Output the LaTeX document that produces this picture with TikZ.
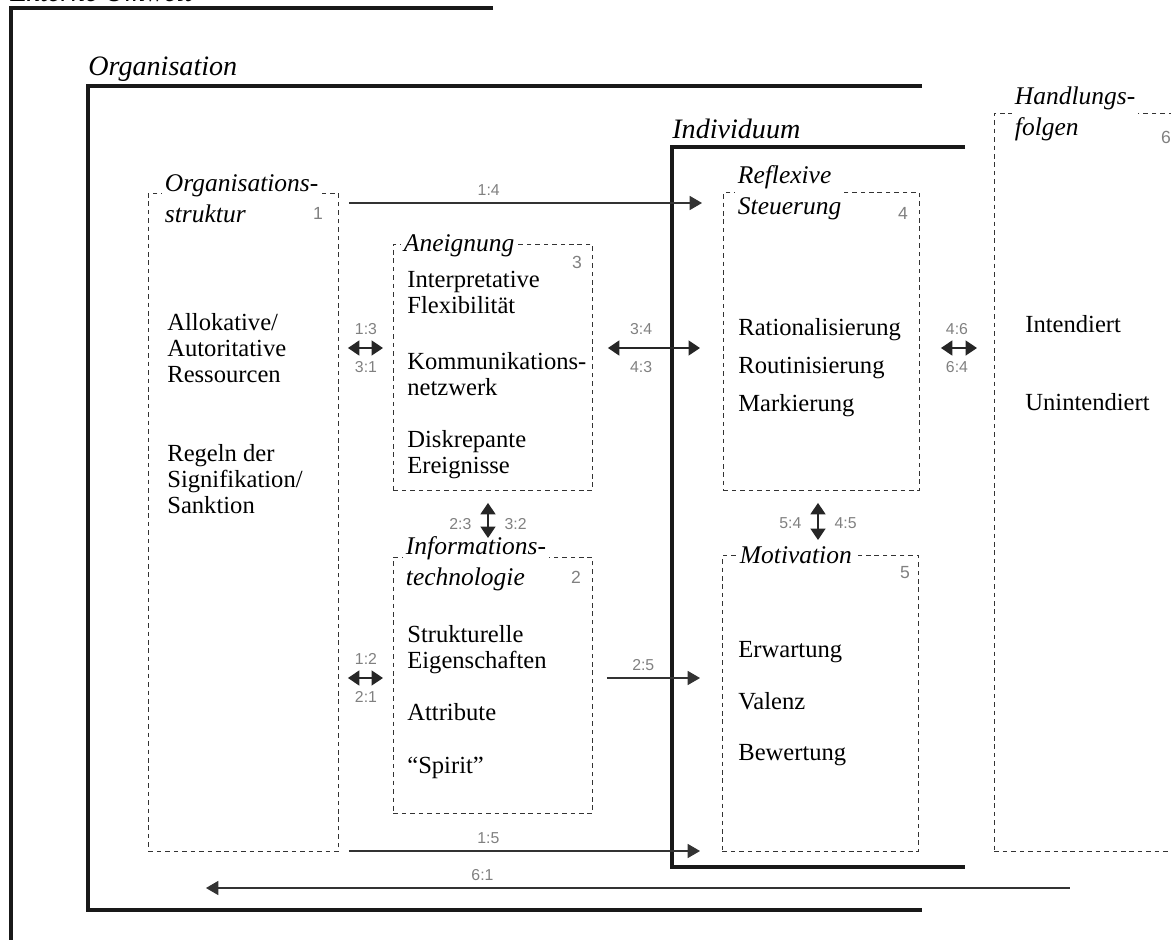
\documentclass[tikz,border=0pt]{standalone}
\usepackage{fontspec}
\setmainfont{Liberation Serif}
\newfontfamily\lblfont{Liberation Sans}
\usetikzlibrary{arrows.meta}

\tikzset{
  frame/.style={line width=1.8pt, black!90},
  dbox/.style={draw=black!80, dash pattern=on 2.6pt off 2.2pt, line width=0.55pt, anchor=north west, inner sep=0pt},
  ttl/.style={fill=white, inner sep=1.5pt, anchor=base west, align=left, font=\fontsize{14.5}{17.6}\selectfont\itshape},
  sect/.style={anchor=base west, inner sep=0pt, font=\fontsize{16}{18}\selectfont\itshape},
  txt/.style={anchor=base west, inner sep=0pt, align=left, font=\fontsize{14}{14.6}\selectfont},
  lbl/.style={inner sep=1pt, text=black!50, font=\lblfont\fontsize{9}{10}\selectfont},
  num/.style={inner sep=0pt, text=black!50, font=\lblfont\fontsize{10}{11}\selectfont},
  arr/.style={-{Triangle[length=7pt,width=8pt]}, line width=0.6pt, black!80},
  darr/.style={{Triangle[length=6.5pt,width=8.5pt]}-{Triangle[length=6.5pt,width=8.5pt]}, line width=1pt, black!85},
}

\begin{document}
\begin{tikzpicture}[x=0.02cm, y=-0.02cm]
    \useasboundingbox (0,0) rectangle (1171,940);
    % frames
    \draw[frame] (493,8) -- (11,8) -- (11,960);
    \node[sect] (ext) at (10,1) {Externe Umwelt};
    \draw[frame] (922,86) -- (88,86) -- (88,910) -- (922,910);
    \node[sect] (org) at (88,75) {Organisation};
    \draw[frame] (965,147) -- (672,147) -- (672,867) -- (965,867);
    \node[sect] (ind) at (672,138) {Individuum};

    % boxes
    \node[dbox, minimum width=3.80cm, minimum height=13.16cm] (b1) at (148,193) {};
    \node[dbox, minimum width=3.98cm, minimum height=4.92cm] (b3) at (393,244) {};
    \node[dbox, minimum width=3.98cm, minimum height=5.12cm] (b2) at (393,557) {};
    \node[dbox, minimum width=3.92cm, minimum height=5.96cm] (b4) at (723,192) {};
    \node[dbox, minimum width=3.92cm, minimum height=5.92cm] (b5) at (722,555) {};
    \node[dbox, minimum width=5.12cm, minimum height=14.76cm] (b6) at (994,113) {};

    % titles and numbers (base = last line)
    \node[ttl] (t1) at (162,222) {Organisations-\\struktur};
    \node[ttl] (t3) at (401,251) {Aneignung};
    \node[ttl] (t2) at (403,585) {Informations-\\technologie};
    \node[ttl] (t4) at (735,214) {Reflexive\\Steuerung};
    \node[ttl] (t5) at (737,563) {Motivation};
    \node[ttl] (t6) at (1012,135) {Handlungs-\\folgen};
    \node[num] (n1) at (318,213) {1};
    \node[num] (n3) at (577,262) {3};
    \node[num] (n2) at (576,577) {2};
    \node[num] (n4) at (903,213) {4};
    \node[num] (n5) at (905,573) {5};
    \node[num] (n6) at (1166,137) {6};

    % box contents
    \node[txt] (c1a) at (167,382) {Allokative/\\Autoritative\\Ressourcen};
    \node[txt] (c1b) at (167,513) {Regeln der\\Signifikation/\\Sanktion};
    \node[txt] (c3a) at (407,313) {Interpretative\\Flexibilität};
    \node[txt] (c3b) at (407,395) {Kommunikations-\\netzwerk};
    \node[txt] (c3c) at (407,473) {Diskrepante\\Ereignisse};
    \node[txt] (c2a) at (407,668) {Strukturelle\\Eigenschaften};
    \node[txt] (c2b) at (407,720) {Attribute};
    \node[txt] (c2c) at (407,773) {“Spirit”};
    \node[txt] (c4a) at (738,335) {Rationalisierung};
    \node[txt] (c4b) at (738,373) {Routinisierung};
    \node[txt] (c4c) at (738,411) {Markierung};
    \node[txt] (c5a) at (738,657) {Erwartung};
    \node[txt] (c5b) at (738,709) {Valenz};
    \node[txt] (c5c) at (738,760) {Bewertung};
    \node[txt] (c6a) at (1025,332) {Intendiert};
    \node[txt] (c6b) at (1025,410) {Unintendiert};

    % relations
    \draw[arr, shorten <=0.2cm, shorten >=0.42cm] (b1.east |- 0,203) -- node[lbl, pos=0.39, above=3pt] {1:4} (b4.west |- 0,203);
    \draw[darr, shorten <=0.18cm, shorten >=0.2cm] (b1.east |- 0,348) -- node[lbl, above=6pt] {1:3} node[lbl, below=6pt] {3:1} (b3.west |- 0,348);
    \draw[darr, shorten <=0.3cm, shorten >=0.46cm] (b3.east |- 0,348) -- node[lbl, pos=0.37, above=6pt] {3:4} node[lbl, pos=0.37, below=6pt] {4:3} (b4.west |- 0,348);
    \draw[darr, shorten <=0.42cm, shorten >=0.34cm] (b4.east |- 0,348) -- node[lbl, above=6pt] {4:6} node[lbl, below=6pt] {6:4} (b6.west |- 0,348);
    \draw[darr, shorten <=0.24cm, shorten >=0.38cm] (b3.south -| 488,0) -- node[lbl, left=8pt] {2:3} node[lbl, right=8pt] {3:2} (b2.north -| 488,0);
    \draw[darr, shorten <=0.24cm, shorten >=0.3cm] (b4.south -| 818,0) -- node[lbl, left=8pt] {5:4} node[lbl, right=8pt] {4:5} (b5.north -| 818,0);
    \draw[darr, shorten <=0.18cm, shorten >=0.2cm] (b1.east |- 0,678) -- node[lbl, above=6pt] {1:2} node[lbl, below=6pt] {2:1} (b2.west |- 0,678);
    \draw[arr, shorten <=0.28cm, shorten >=0.44cm] (b2.east |- 0,678) -- node[lbl, pos=0.39, above=3pt] {2:5} (b5.west |- 0,678);
    \draw[arr, shorten <=0.2cm, shorten >=0.44cm] (b1.east |- 0,851) -- node[lbl, pos=0.39, above=3pt] {1:5} (b5.west |- 0,851);
    \draw[arr] ([xshift=1.52cm]b6.west |- 0,888) -- node[lbl, pos=0.68, above=3pt] {6:1} ([xshift=1.16cm]b1.west |- 0,888);
\end{tikzpicture}
\end{document}
